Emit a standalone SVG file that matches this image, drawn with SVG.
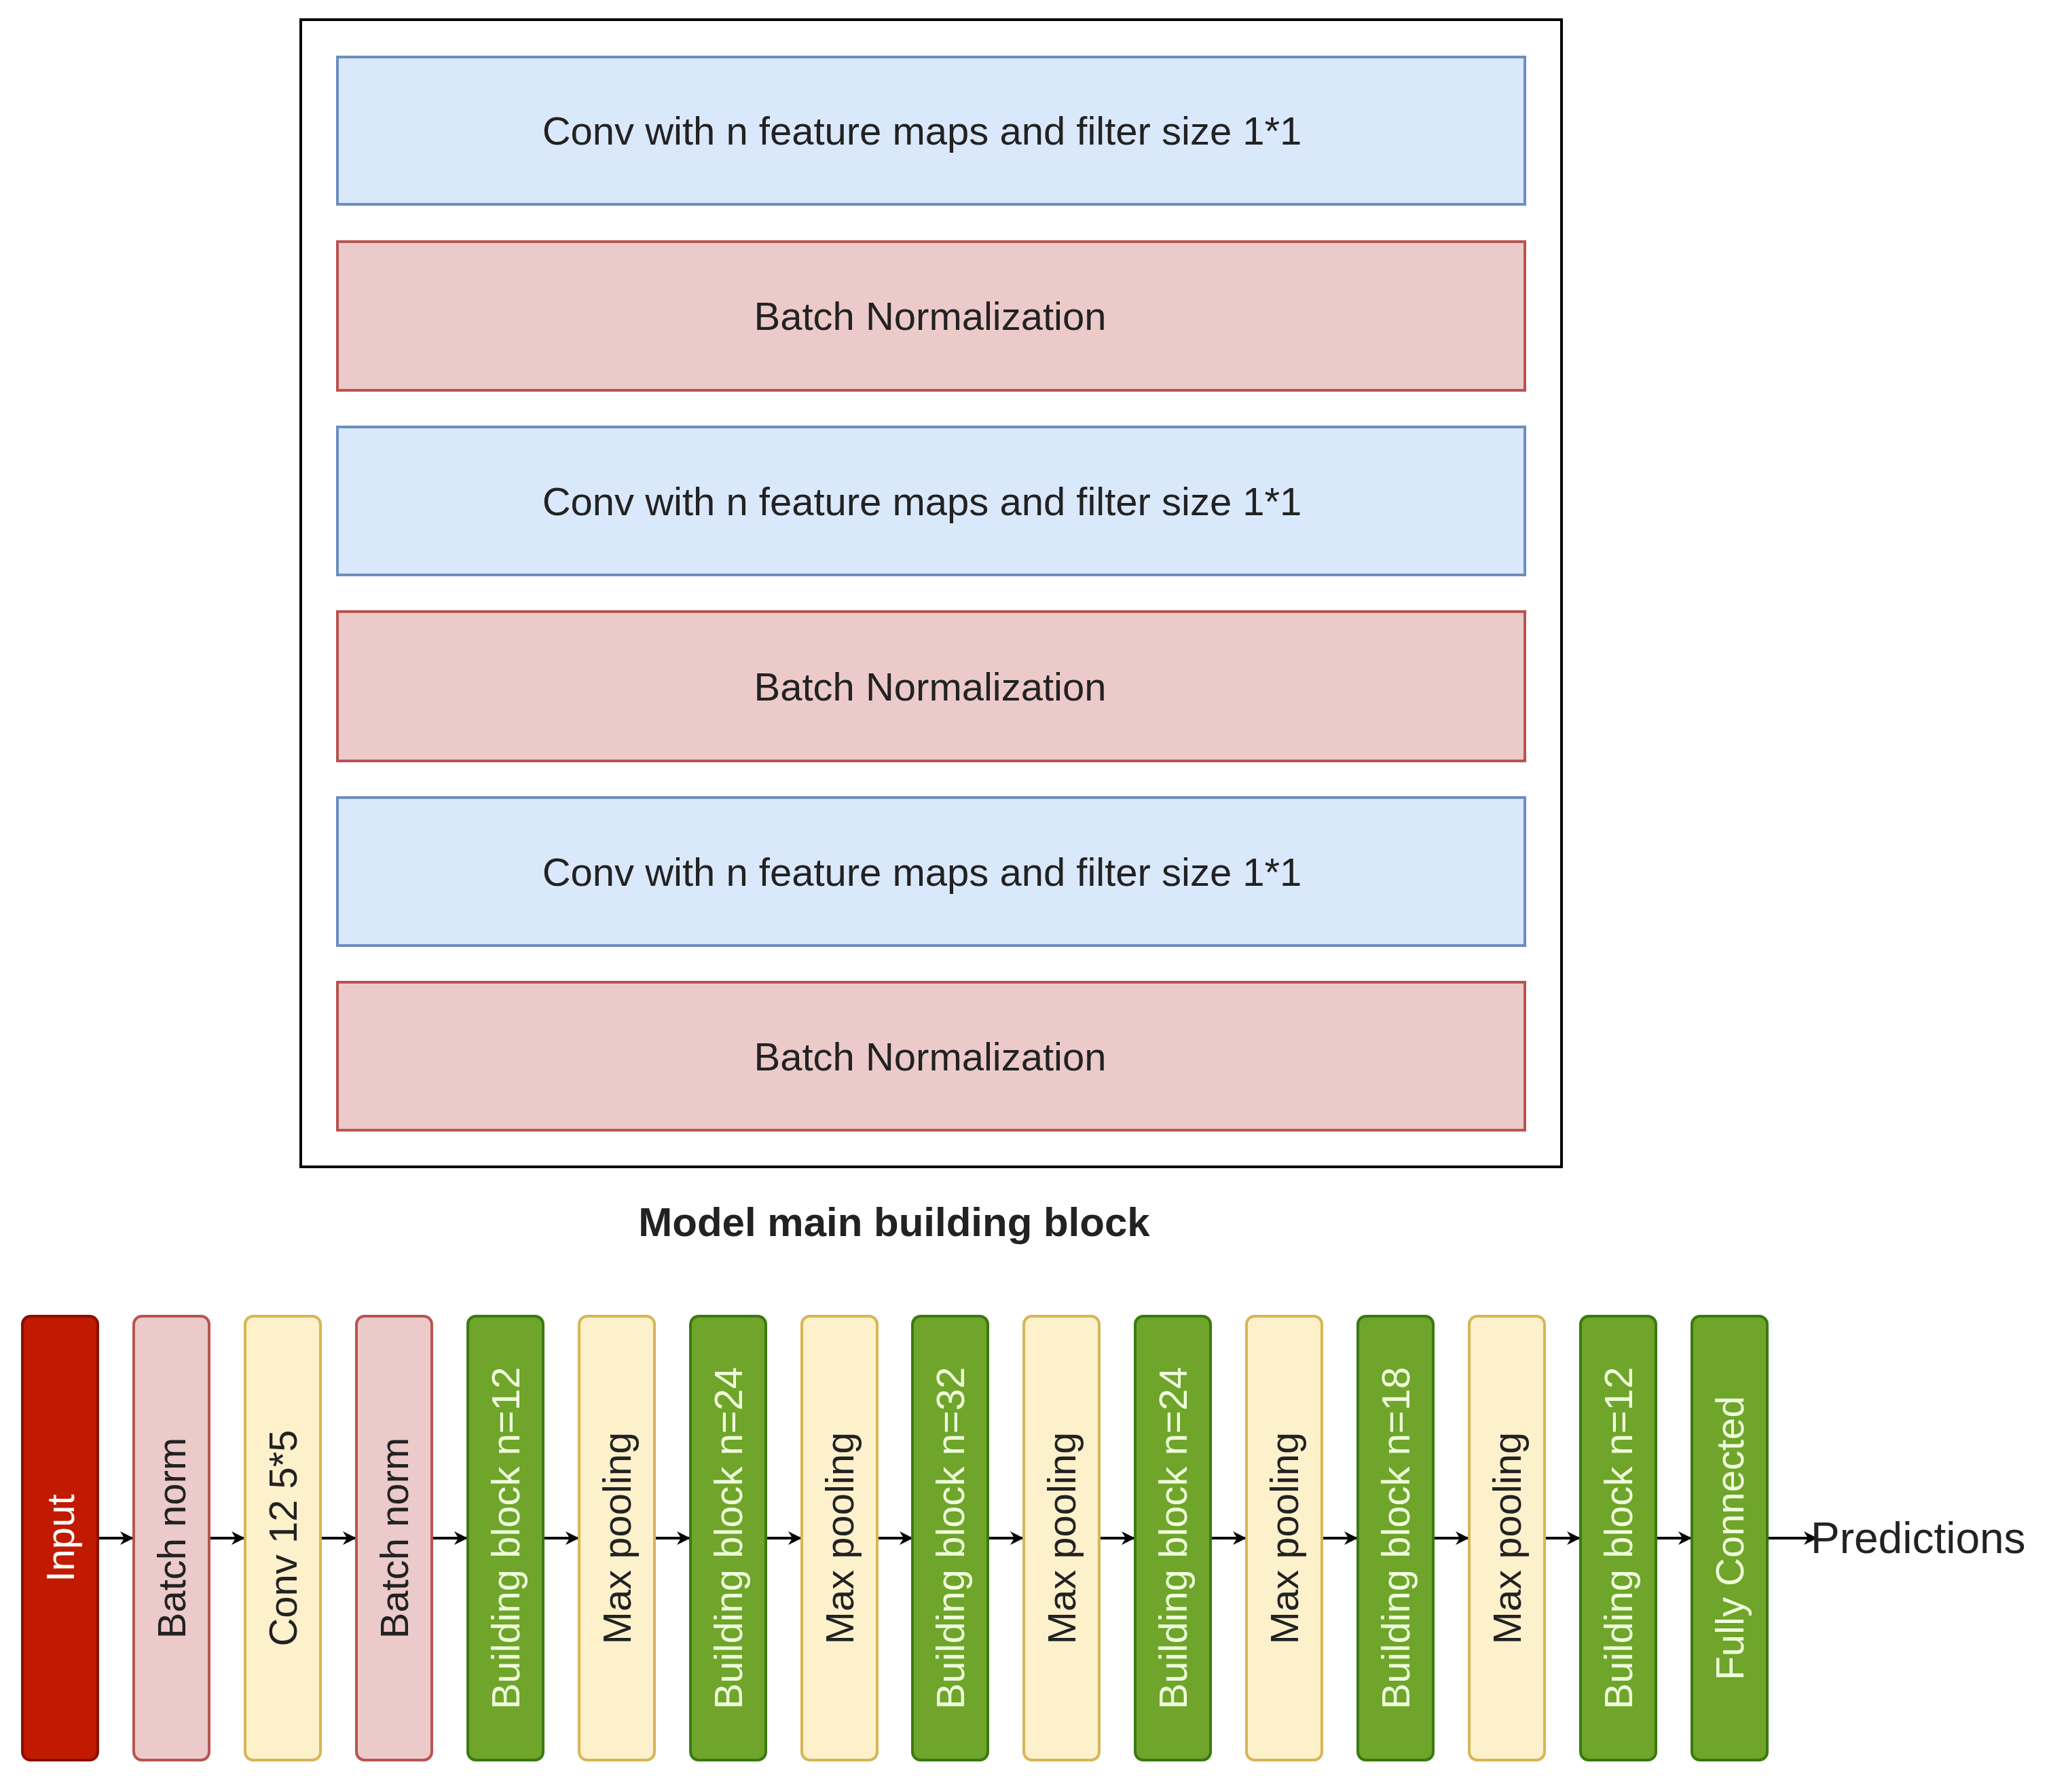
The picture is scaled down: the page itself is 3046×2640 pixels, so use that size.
<svg xmlns="http://www.w3.org/2000/svg" width="3046" height="2640" viewBox="0 0 3046 2640">
<defs>
<style>
text{font-family:"Liberation Sans",Arial,sans-serif;}
.blue{fill:#dae8fc;stroke:#6c8ebf;stroke-width:4}
.pink{fill:#eccaca;stroke:#b85450;stroke-width:4}
.yel{fill:#fdf1cc;stroke:#d6b656;stroke-width:4}
.grn{fill:#6ea52a;stroke:#3a7a10;stroke-width:4}
.red{fill:#c11a00;stroke:#8a0f00;stroke-width:4}
.h{font-size:58px;fill:#222;text-anchor:middle;dominant-baseline:central}
.v{font-size:58px;fill:#222;text-anchor:middle;dominant-baseline:central}
.vw{fill:#f0ffdc}
.conn{stroke:#000;stroke-width:4;fill:none;marker-end:url(#arr)}
</style>
<marker id="arr" viewBox="0 0 10 10" refX="9" refY="5" markerWidth="5" markerHeight="5" orient="auto" markerUnits="strokeWidth">
<path d="M0,0 L10,5 L0,10 L3,5 z" fill="#000"/>
</marker>
</defs>
<rect width="3046" height="2640" fill="#fff"/>
<g id="block">
<rect x="443" y="29" width="1857" height="1690" fill="#fff" stroke="#000" stroke-width="4"/>
<g id="b1"><rect class="blue" x="497" y="84" width="1749" height="217"/><text class="h" x="1358" y="192">Conv with n feature maps and filter size 1*1</text></g>
<g id="b2"><rect class="pink" x="497" y="356" width="1749" height="219"/><text class="h" x="1370" y="465">Batch Normalization</text></g>
<g id="b3"><rect class="blue" x="497" y="629" width="1749" height="218"/><text class="h" x="1358" y="738">Conv with n feature maps and filter size 1*1</text></g>
<g id="b4"><rect class="pink" x="497" y="901" width="1749" height="220"/><text class="h" x="1370" y="1011">Batch Normalization</text></g>
<g id="b5"><rect class="blue" x="497" y="1175" width="1749" height="218"/><text class="h" x="1358" y="1284">Conv with n feature maps and filter size 1*1</text></g>
<g id="b6"><rect class="pink" x="497" y="1447" width="1749" height="218"/><text class="h" x="1370" y="1556">Batch Normalization</text></g>
</g>
<text x="1317" y="1800" font-size="60" font-weight="bold" fill="#222" text-anchor="middle" dominant-baseline="central">Model main building block</text>
<g id="connectors">
<line class="conn" x1="144" y1="2266" x2="195" y2="2266"/>
<line class="conn" x1="308" y1="2266" x2="359" y2="2266"/>
<line class="conn" x1="472" y1="2266" x2="523" y2="2266"/>
<line class="conn" x1="636" y1="2266" x2="687" y2="2266"/>
<line class="conn" x1="800" y1="2266" x2="851" y2="2266"/>
<line class="conn" x1="964" y1="2266" x2="1015" y2="2266"/>
<line class="conn" x1="1128" y1="2266" x2="1179" y2="2266"/>
<line class="conn" x1="1292" y1="2266" x2="1343" y2="2266"/>
<line class="conn" x1="1455" y1="2266" x2="1506" y2="2266"/>
<line class="conn" x1="1619" y1="2266" x2="1670" y2="2266"/>
<line class="conn" x1="1783" y1="2266" x2="1834" y2="2266"/>
<line class="conn" x1="1947" y1="2266" x2="1998" y2="2266"/>
<line class="conn" x1="2111" y1="2266" x2="2162" y2="2266"/>
<line class="conn" x1="2275" y1="2266" x2="2326" y2="2266"/>
<line class="conn" x1="2439" y1="2266" x2="2490" y2="2266"/>
<line class="conn" x1="2603" y1="2266" x2="2675" y2="2266"/>
</g>
<g id="n1"><rect class="red" x="33" y="1939" width="111" height="654" rx="12"/><text class="v vw" fill="#fff" style="fill:#fff" transform="translate(88.5,2266) rotate(-90)">Input</text></g>
<g id="n2"><rect class="pink" x="197" y="1939" width="111" height="654" rx="12"/><text class="v" transform="translate(252.5,2266) rotate(-90)">Batch norm</text></g>
<g id="n3"><rect class="yel" x="361" y="1939" width="111" height="654" rx="12"/><text class="v" transform="translate(416.5,2266) rotate(-90)">Conv 12 5*5</text></g>
<g id="n4"><rect class="pink" x="525" y="1939" width="111" height="654" rx="12"/><text class="v" transform="translate(580.5,2266) rotate(-90)">Batch norm</text></g>
<g id="n5"><rect class="grn" x="689" y="1939" width="111" height="654" rx="12"/><text class="v vw" transform="translate(744.5,2266) rotate(-90)">Building block n=12</text></g>
<g id="n6"><rect class="yel" x="853" y="1939" width="111" height="654" rx="12"/><text class="v" transform="translate(908.5,2266) rotate(-90)">Max pooling</text></g>
<g id="n7"><rect class="grn" x="1017" y="1939" width="111" height="654" rx="12"/><text class="v vw" transform="translate(1072.5,2266) rotate(-90)">Building block n=24</text></g>
<g id="n8"><rect class="yel" x="1181" y="1939" width="111" height="654" rx="12"/><text class="v" transform="translate(1236.5,2266) rotate(-90)">Max pooling</text></g>
<g id="n9"><rect class="grn" x="1344" y="1939" width="111" height="654" rx="12"/><text class="v vw" transform="translate(1399.5,2266) rotate(-90)">Building block n=32</text></g>
<g id="n10"><rect class="yel" x="1508" y="1939" width="111" height="654" rx="12"/><text class="v" transform="translate(1563.5,2266) rotate(-90)">Max pooling</text></g>
<g id="n11"><rect class="grn" x="1672" y="1939" width="111" height="654" rx="12"/><text class="v vw" transform="translate(1727.5,2266) rotate(-90)">Building block n=24</text></g>
<g id="n12"><rect class="yel" x="1836" y="1939" width="111" height="654" rx="12"/><text class="v" transform="translate(1891.5,2266) rotate(-90)">Max pooling</text></g>
<g id="n13"><rect class="grn" x="2000" y="1939" width="111" height="654" rx="12"/><text class="v vw" transform="translate(2055.5,2266) rotate(-90)">Building block n=18</text></g>
<g id="n14"><rect class="yel" x="2164" y="1939" width="111" height="654" rx="12"/><text class="v" transform="translate(2219.5,2266) rotate(-90)">Max pooling</text></g>
<g id="n15"><rect class="grn" x="2328" y="1939" width="111" height="654" rx="12"/><text class="v vw" transform="translate(2383.5,2266) rotate(-90)">Building block n=12</text></g>
<g id="n16"><rect class="grn" x="2492" y="1939" width="111" height="654" rx="12"/><text class="v vw" transform="translate(2547.5,2266) rotate(-90)">Fully Connected</text></g>
<g id="pred"><text x="2667" y="2266" font-size="64" fill="#222" dominant-baseline="central">Predictions</text></g>
</svg>
